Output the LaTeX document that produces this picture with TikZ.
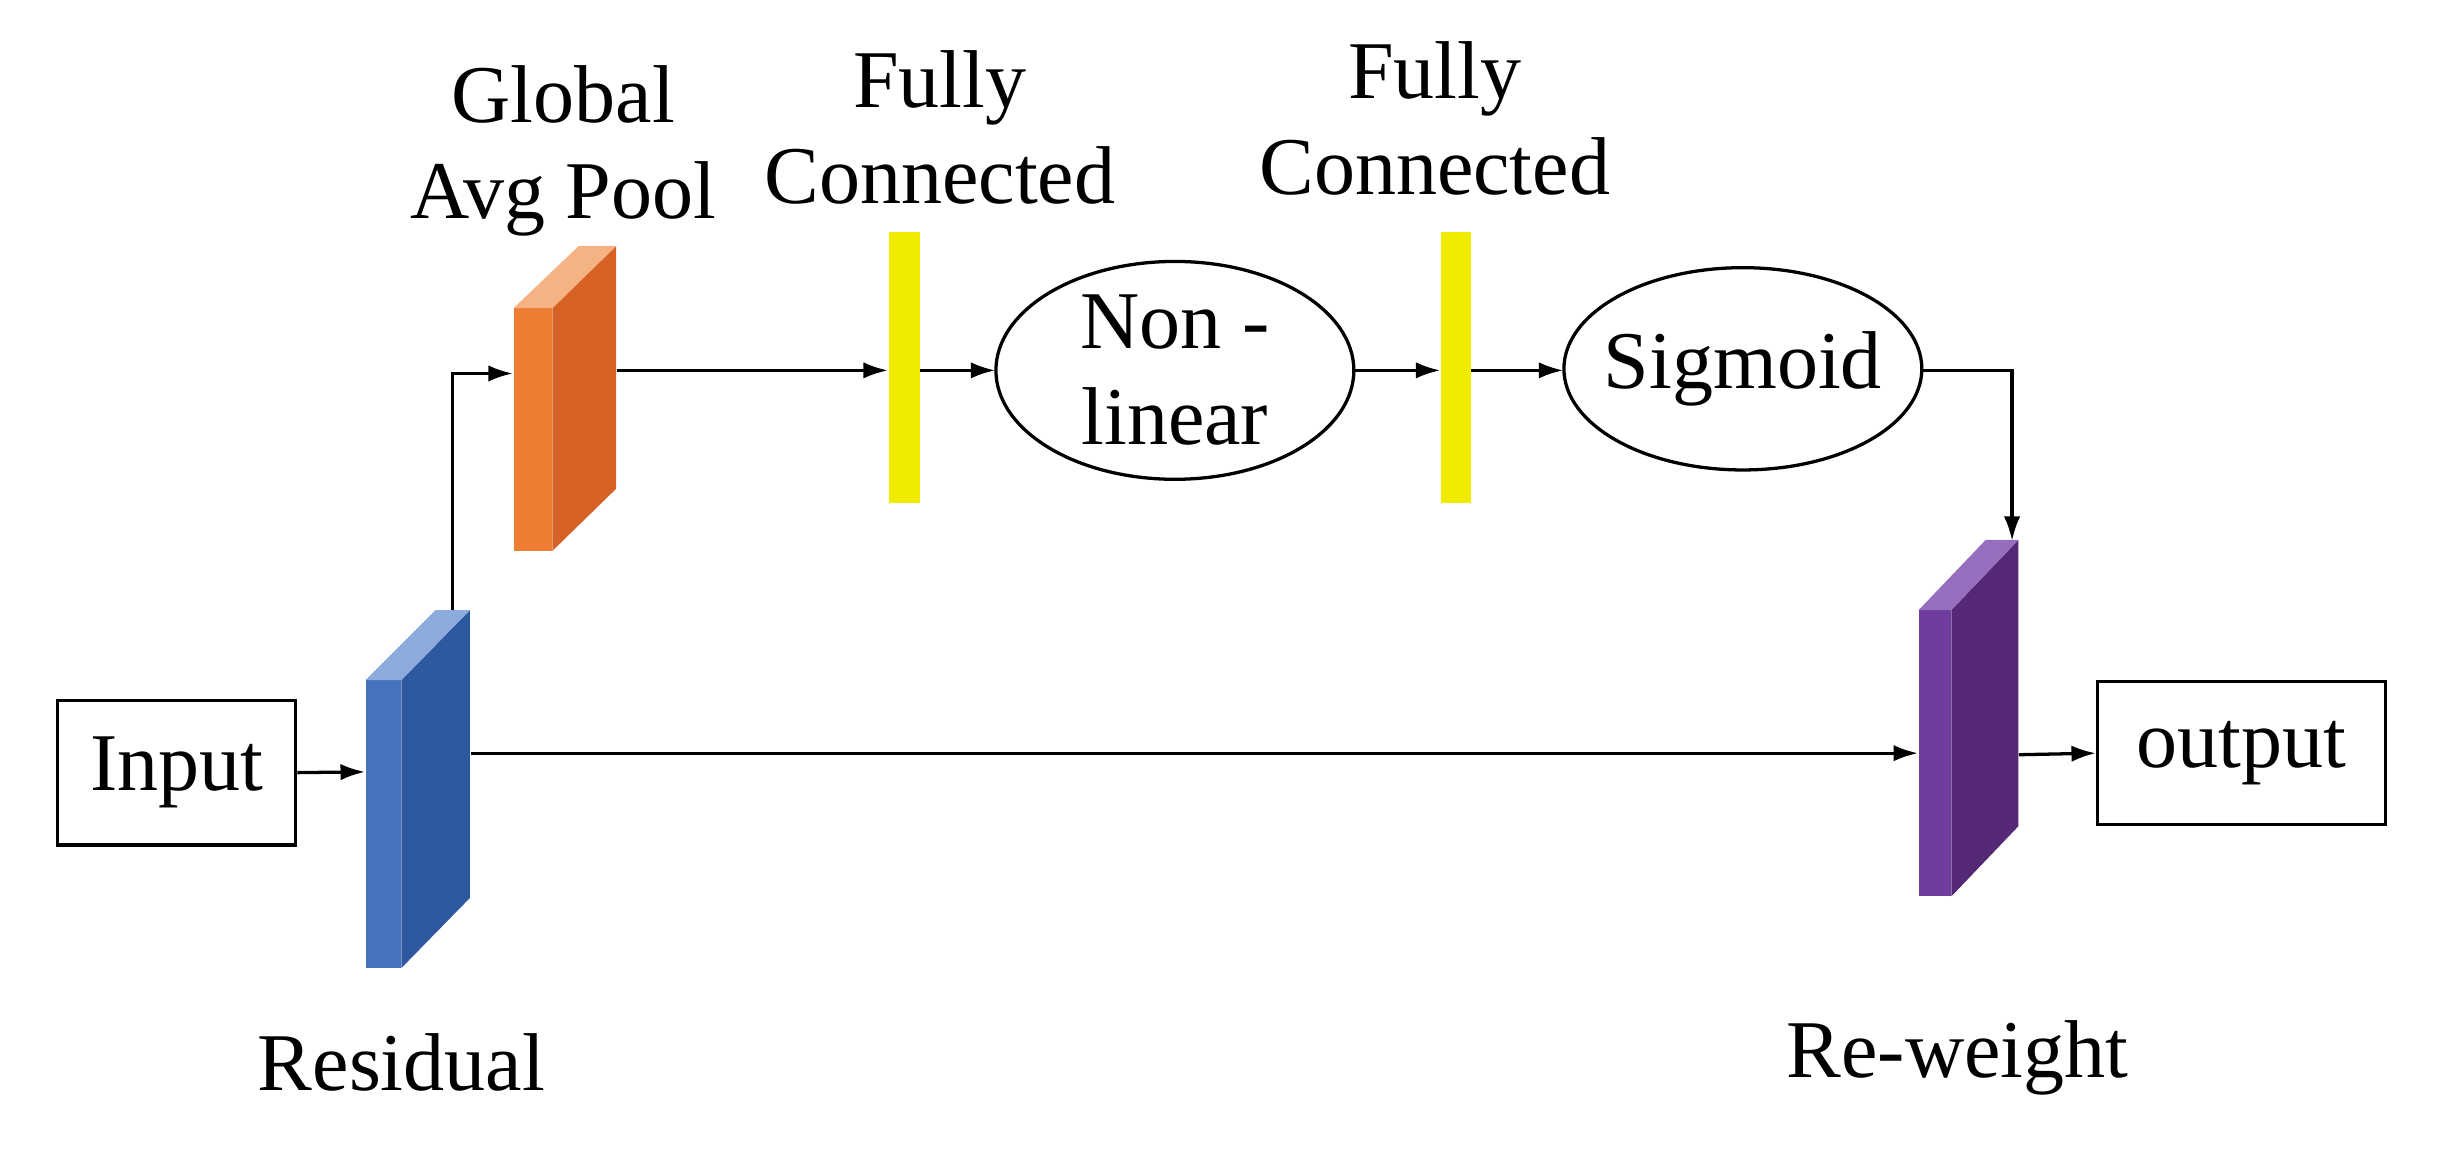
\documentclass[tikz,border=0pt]{standalone}
\usepackage{fontspec}
\setmainfont{Liberation Serif}
\usetikzlibrary{arrows.meta}
\definecolor{bF}{RGB}{72,114,190}\definecolor{bD}{RGB}{46,88,160}\definecolor{bT}{RGB}{140,170,220}
\definecolor{oF}{RGB}{237,125,49}\definecolor{oD}{RGB}{214,98,38}\definecolor{oT}{RGB}{245,178,130}
\definecolor{pF}{RGB}{112,60,160}\definecolor{pD}{RGB}{84,40,116}\definecolor{pT}{RGB}{150,110,190}
\definecolor{yel}{RGB}{240,236,0}
\begin{document}
\begin{tikzpicture}[x=0.02cm,y=-0.02cm,
  font=\fontsize{30}{35}\selectfont,
  arr/.style={-{Latex[length=9pt,width=6pt]},line width=1.2pt},
  box/.style={draw,line width=1.2pt,inner sep=0pt},
  lbl/.style={align=center,inner sep=0pt},
  pt/.style={inner sep=0pt,minimum size=0pt}]
\useasboundingbox (0,0) rectangle (1568,748);
% blocks
\fill[bF] (235,437) rectangle (258,622);
\fill[bD] (258,437) -- (302,392) -- (302,577) -- (258,622) -- cycle;
\fill[bT] (235,437)--(258,437)--(302,392)--(280,392)--cycle;
\fill[oF] (330,198) rectangle (355,354);
\fill[oD] (355,198) -- (396,158) -- (396,314) -- (355,354) -- cycle;
\fill[oT] (330,198)--(355,198)--(396,158)--(372,158)--cycle;
\fill[pF] (1233,392) rectangle (1254,576);
\fill[pD] (1254,392) -- (1297,347) -- (1297,531) -- (1254,576) -- cycle;
\fill[pT] (1233,392)--(1254,392)--(1297,347)--(1276,347)--cycle;
\coordinate (res) at (291,392);
\node[pt] (resW) at (235,496) {};
\node[pt] (resE) at (302,484) {};
\node[pt] (gapW) at (330,240) {};
\node[pt] (gapE) at (396,238) {};
\node[pt] (rwW) at (1233,484) {};
\node[pt] (rwE) at (1297,485) {};
\node[pt] (rwT) at (1293,348) {};
% yellow bars
\fill[yel] (571,149) rectangle (591,323);
\fill[yel] (926,149) rectangle (945,323);
\node[pt] (fc1W) at (571,238) {}; \node[pt] (fc1E) at (591,238) {};
\node[pt] (fc2W) at (926,238) {}; \node[pt] (fc2E) at (945,238) {};
% ellipses
\draw[line width=1.2pt] (755,238) ellipse [x radius=115,y radius=70];
\node[lbl] at (755,238) {Non -\\linear};
\node[pt] (nlW) at (640,238) {}; \node[pt] (nlE) at (870,238) {};
\draw[line width=1.2pt] (1120,237) ellipse [x radius=115,y radius=65];
\node[lbl] at (1120,237) {Sigmoid};
\node[pt] (sgW) at (1005,238) {}; \node[pt] (sgE) at (1235,238) {};
% boxes
\node[box,minimum width=3.06cm,minimum height=1.86cm] (in) at (113.5,496.5) {Input};
\node[box,minimum width=3.7cm,minimum height=1.84cm] (out) at (1440.5,484) {output};
% labels
\node[lbl] at (362,97) {Global\\Avg Pool};
\node[lbl] at (604,82) {Fully\\Connected};
\node[lbl] at (922,76) {Fully\\Connected};
\node[lbl] at (258,683) {Residual};
\node[lbl] at (1258,680) {Re-weight};
% arrows
\draw[arr] (in.east) -- (resW);
\draw[arr] (res) -- (291,240) -- (gapW);
\draw[arr] (gapE) -- (fc1W);
\draw[arr] (fc1E) -- (nlW);
\draw[arr] (nlE) -- (fc2W);
\draw[arr] (fc2E) -- (sgW);
\draw[arr] (sgE) -- (1293,238) -- (rwT);
\draw[arr] (resE) -- (rwW);
\draw[arr] (rwE) -- (out.west);
\end{tikzpicture}
\end{document}
